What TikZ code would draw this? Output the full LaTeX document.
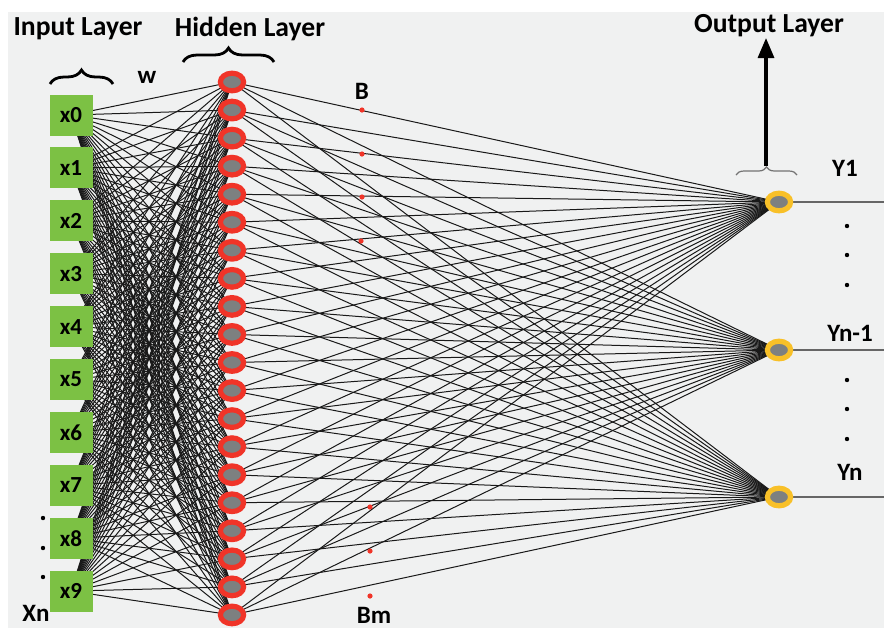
\documentclass[tikz,border=0pt]{standalone}
\usepackage{fontspec}
\setsansfont{Carlito}
\usetikzlibrary{shapes, arrows.meta, decorations.pathreplacing}

\definecolor{panelgray}{RGB}{240,241,241}
\definecolor{boxgreen}{RGB}{124,193,68}
\definecolor{neured}{RGB}{240,52,40}
\definecolor{neugray}{RGB}{125,128,128}
\definecolor{outyellow}{RGB}{248,192,40}

\pgfdeclarelayer{back}
\pgfdeclarelayer{wires}
\pgfsetlayers{back,wires,main}

\begin{document}
\begin{tikzpicture}[x=0.5pt, y=-0.5pt, font=\sffamily\bfseries,
    inbox/.style={fill=boxgreen, minimum width=21.5pt, minimum height=20.5pt,
        inner sep=0pt, font=\sffamily\bfseries\fontsize{11.5}{13}\selectfont},
    hidnode/.style={ellipse, draw=neured, line width=2.6pt, fill=neugray,
        minimum width=11.6pt, minimum height=8.8pt, inner sep=0pt},
    outnode/.style={hidnode, draw=outyellow},
    wire/.style={black!90, line width=0.5pt},
    outwire/.style={black!60, line width=0.9pt},
    biasdot/.style={circle, fill=neured, inner sep=0pt, minimum size=2.6pt},
    title/.style={font=\sffamily\bfseries\fontsize{13.8}{15}\selectfont},
    tag/.style={font=\sffamily\bfseries\fontsize{12.5}{14}\selectfont},
    layerbrace/.style={decorate, decoration={brace, amplitude=7pt}, line width=1.4pt}]

    \useasboundingbox (0,0) rectangle (884,628);
    % panel behind everything
    \begin{pgfonlayer}{back}
        \fill[white] (0,0) rectangle (884,628);
        \fill[panelgray] (8,12) rectangle (884,628);
    \end{pgfonlayer}

    % input layer
    \foreach \i in {0,...,9}
        \node[inbox] (in\i) at (71, 115+52.9*\i) {x\i};
    % hidden layer
    \foreach \j in {0,...,19}
        \node[hidnode] (h\j) at (232, 82+28.05*\j) {};
    % output layer
    \node[outnode] (out0) at (779,202) {};
    \node[outnode] (out1) at (779,350) {};
    \node[outnode] (out2) at (779,497) {};
    \coordinate (yend0) at (884,202);
    \coordinate (yend1) at (884,350);
    \coordinate (yend2) at (884,497);

    % weights, drawn under the nodes
    \begin{pgfonlayer}{wires}
        \foreach \i in {0,...,9}
            \foreach \j in {0,...,19}
                \draw[wire] (in\i.center) -- (h\j.center);
        \foreach \j in {0,...,19}
            \foreach \k in {0,1,2}
                \draw[wire] (h\j.center) -- (out\k.center);
        \foreach \k in {0,1,2}
            \draw[outwire] (out\k.center) -- (yend\k);
    \end{pgfonlayer}

    % bias points
    \node[biasdot] (b0) at (362,110) {};
    \node[biasdot] (b1) at (362,154) {};
    \node[biasdot] (b2) at (362,197) {};
    \node[biasdot] (b3) at (361,241) {};
    \node[biasdot] (b4) at (370,507) {};
    \node[biasdot] (b5) at (370,551) {};
    \node[biasdot] (b6) at (370,596) {};

    % braces over the layers
    \draw[layerbrace] (50,84) -- (113,84);
    \draw[layerbrace] (183,62) -- (274,62);
    \draw[decorate, decoration={brace, amplitude=4pt}, black!55, line width=0.6pt]
        (736,175) -- (797,175);
    \coordinate (otip) at (766,166);
    \coordinate (otop) at (766,38);
    \draw[line width=1.6pt, -{Triangle[length=10pt, width=8pt]}] (otip) -- (otop);

    % labels
    \node[title] (inlabel) at (78,29) {Input Layer};
    \node[title] (hidlabel) at (250,29) {Hidden Layer};
    \node[title] (outlabel) at (769,26) {Output Layer};
    \node[tag] (wlabel) at (147,77) {w};
    \node[tag] (blabel) at (362,91) {B};
    \node[tag] (bmlabel) at (374,615) {Bm};
    \node[tag, inner sep=0pt] (xnlabel) at (36,613) {Xn};
    \node[tag] (y1label) at (845,168) {Y1};
    \node[tag] (ynmlabel) at (850,333) {Yn-1};
    \node[tag] (ynlabel) at (850,472) {Yn};

    % dots for the elided terms
    \foreach \y in {518,548,577}
        \fill (43,\y) circle (1.1pt);
    \foreach \y in {226,255,285,380,409,439}
        \fill (847,\y) circle (1.1pt);
\end{tikzpicture}
\end{document}
